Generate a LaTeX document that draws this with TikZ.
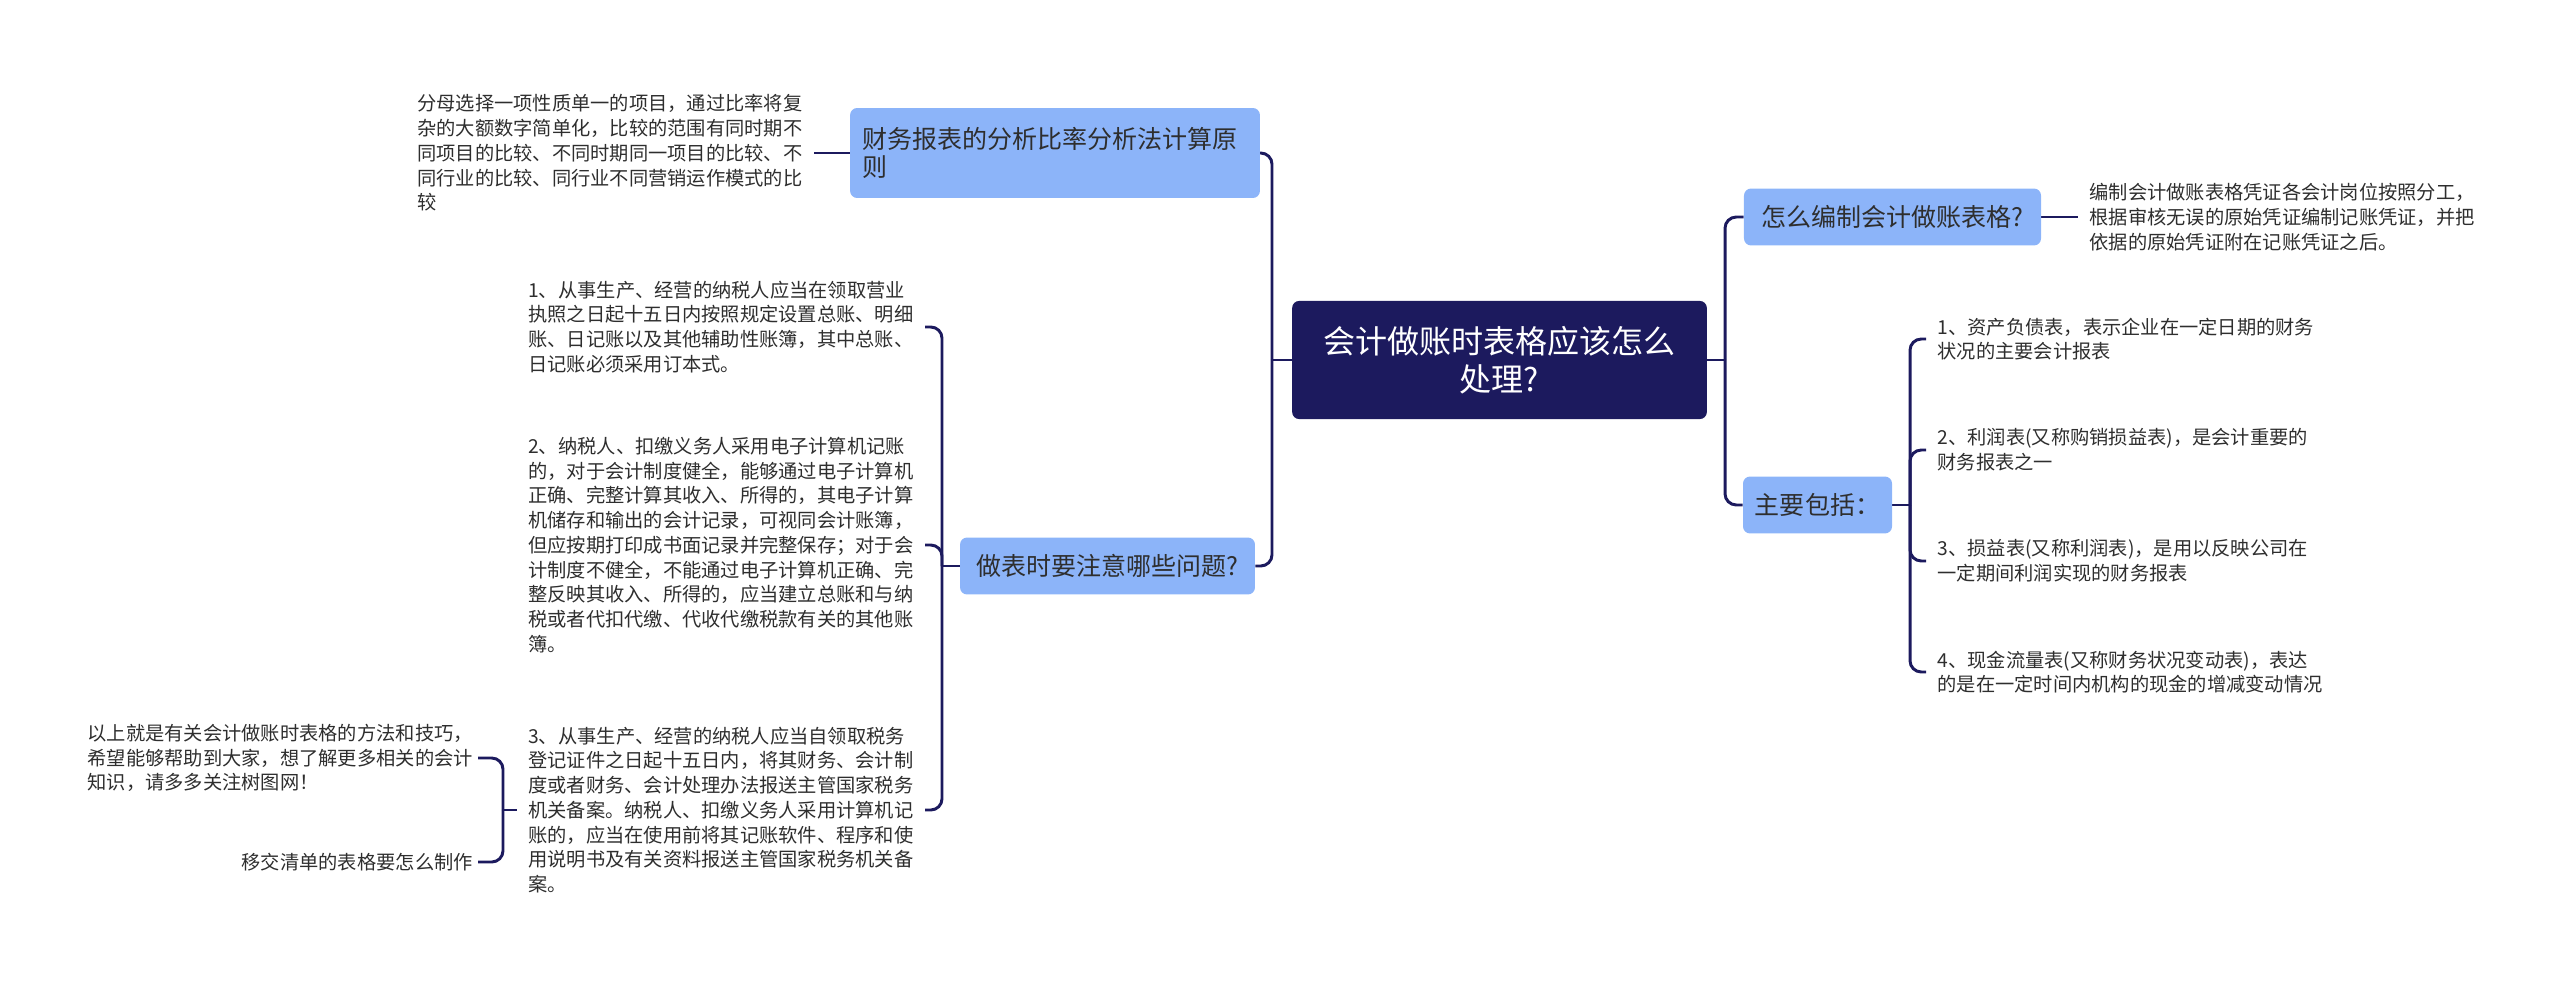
\documentclass[tikz,border=0pt]{standalone}
\usepackage{fontspec}
\setmainfont{Noto Sans CJK SC}
\usetikzlibrary{backgrounds}
\definecolor{mapnavy}{HTML}{1C1A5E}
\definecolor{mapblue}{HTML}{8CB4F9}
\definecolor{mapink}{HTML}{2E2E2E}
\tikzset{
  % knoten
  ctr/.style={rectangle,rounded corners=5pt,fill=mapnavy,text=white,align=center,
              minimum width=295pt,minimum height=84pt,inner sep=0pt,
              font=\fontsize{22.8}{27}\selectfont},
  br/.style={rectangle,rounded corners=5pt,fill=mapblue,text=mapink,
             minimum height=40.5pt,inner xsep=8.5pt,inner ysep=0pt,
             font=\fontsize{17.8}{20}\selectfont},
  lf/.style={align=left,text=mapink,inner xsep=8pt,inner ysep=0pt,
             font=\fontsize{13.7}{17.6}\selectfont},
  % linien
  cn/.style={draw=mapnavy,line width=2.1pt,rounded corners=8pt},
}
\begin{document}
\begin{tikzpicture}[x=0.25mm,y=-0.25mm]
  \useasboundingbox (0,0) rectangle (2560,987);
  \node[ctr] (root) at (1499.5,360) {会计做账时表格应该怎么\\处理?};
  \node[br,text width=274.5pt,align=left,minimum height=64pt] (ratio) at (1055,153)
    {财务报表的分析比率分析法计算原\\则};
  \node[br,minimum width=209.8pt] (tips) at (1107.5,566) {做表时要注意哪些问题?};
  \node[br,minimum width=211.3pt] (howto) at (1892.5,217) {怎么编制会计做账表格?};
  \node[br,minimum width=104.6pt] (incl) at (1817.5,505) {主要包括：};
  \node[lf,anchor=east] (ratiotxt) at (814,153) {分母选择一项性质单一的项目，通过比率将复\\
    杂的大额数字简单化，比较的范围有同时期不\\同项目的比较、不同时期同一项目的比较、不\\
    同行业的比较、同行业不同营销运作模式的比\\较};
  \node[lf,anchor=east] (tip1) at (925,327) {1、从事生产、经营的纳税人应当在领取营业\\
    执照之日起十五日内按照规定设置总账、明细\\账、日记账以及其他辅助性账簿，其中总账、\\
    日记账必须采用订本式。};
  \node[lf,anchor=east] (tip2) at (925,545) {2、纳税人、扣缴义务人采用电子计算机记账\\
    的，对于会计制度健全，能够通过电子计算机\\正确、完整计算其收入、所得的，其电子计算\\
    机储存和输出的会计记录，可视同会计账簿，\\但应按期打印成书面记录并完整保存；对于会\\
    计制度不健全，不能通过电子计算机正确、完\\整反映其收入、所得的，应当建立总账和与纳\\
    税或者代扣代缴、代收代缴税款有关的其他账\\簿。};
  \node[lf,anchor=east] (tip3) at (925,810) {3、从事生产、经营的纳税人应当自领取税务\\
    登记证件之日起十五日内，将其财务、会计制\\度或者财务、会计处理办法报送主管国家税务\\
    机关备案。纳税人、扣缴义务人采用计算机记\\账的，应当在使用前将其记账软件、程序和使\\
    用说明书及有关资料报送主管国家税务机关备\\案。};
  \node[lf,anchor=east,inner xsep=3.5pt] (outro) at (478,758) {以上就是有关会计做账时表格的方法和技巧，\\
    希望能够帮助到大家，想了解更多相关的会计\\知识，请多多关注树图网！};
  \node[lf,anchor=east,inner xsep=3.5pt] (handover) at (478,862) {移交清单的表格要怎么制作};
  \node[lf,anchor=west] (howtxt) at (2078,217) {编制会计做账表格凭证各会计岗位按照分工，\\
    根据审核无误的原始凭证编制记账凭证，并把\\依据的原始凭证附在记账凭证之后。};
  \node[lf,anchor=west] (sheet1) at (1926,339) {1、资产负债表，表示企业在一定日期的财务\\状况的主要会计报表};
  \node[lf,anchor=west] (sheet2) at (1926,450) {2、利润表(又称购销损益表)，是会计重要的\\财务报表之一};
  \node[lf,anchor=west] (sheet3) at (1926,561) {3、损益表(又称利润表)，是用以反映公司在\\一定期间利润实现的财务报表};
  \node[lf,anchor=west] (sheet4) at (1926,672) {4、现金流量表(又称财务状况变动表)，表达\\的是在一定时间内机构的现金的增减变动情况};
  \coordinate (jl) at (1272,360);
  \coordinate (jr) at (1725,360);
  \coordinate (jt) at (942,566);
  \coordinate (jb) at (503,810);
  \coordinate (ji) at (1910,505);
  \begin{scope}[on background layer]
  \draw[cn] (root.west) -- (jl);
  \draw[cn] (jl) |- (ratio.east);
  \draw[cn] (jl) |- (tips.east);
  \draw[cn] (ratio.west) -- (ratiotxt.east);
  \draw[cn] (tips.west) -- (jt);
  \draw[cn] (jt) |- (tip1.east);
  \draw[cn] (jt) |- (tip2.east);
  \draw[cn] (jt) |- (tip3.east);
  \draw[cn] (tip3.west) -- (jb);
  \draw[cn] (jb) |- (outro.east);
  \draw[cn] (jb) |- (handover.east);
  \draw[cn] (root.east) -- (jr);
  \draw[cn] (jr) |- (howto.west);
  \draw[cn] (jr) |- (incl.west);
  \draw[cn] (howto.east) -- (howtxt.west);
  \draw[cn] (incl.east) -- (ji);
  \draw[cn] (ji) |- (sheet1.west);
  \draw[cn] (ji) |- (sheet2.west);
  \draw[cn] (ji) |- (sheet3.west);
  \draw[cn] (ji) |- (sheet4.west);
  \end{scope}
\end{tikzpicture}
\end{document}
